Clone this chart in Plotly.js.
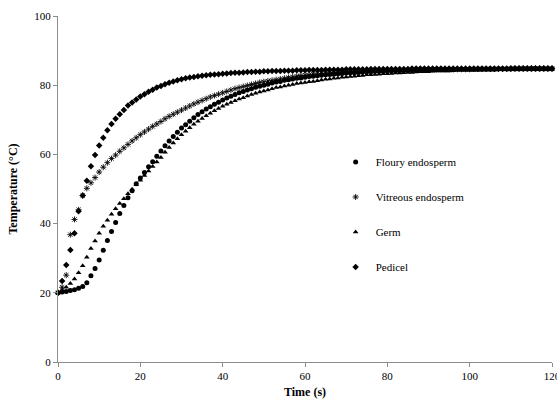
<!DOCTYPE html>
<html><head><meta charset="utf-8">
<script src="https://cdn.plot.ly/plotly-3.0.1.min.js"></script>
<style>html,body{margin:0;padding:0;background:#fff}#chart{width:557px;height:400px}</style>
</head><body><div id="chart"></div>
<script>
const time = [0,1,2,3,4,5,6,7,8,9,10,11,12,13,14,15,16,17,18,19,20,21,22,23,24,25,26,27,28,29,
30,31,32,33,34,35,36,37,38,39,40,41,42,43,44,45,46,47,48,49,50,51,52,53,54,55,56,57,58,59,
60,61,62,63,64,65,66,67,68,69,70,71,72,73,74,75,76,77,78,79,80,81,82,83,84,85,86,87,88,89,
90,91,92,93,94,95,96,97,98,99,100,101,102,103,104,105,106,107,108,109,110,111,112,113,114,115,116,117,118,119,120];

const flouryEndosperm = [20.0,20.2,20.4,20.7,20.9,21.3,21.8,22.9,24.9,27.0,
29.5,32.3,35.1,37.7,40.3,42.9,45.2,47.5,49.5,51.5,
53.2,54.8,56.4,57.9,59.5,61.0,62.5,63.9,65.2,66.4,
67.6,68.6,69.6,70.6,71.5,72.3,73.1,73.8,74.5,75.1,
75.7,76.3,76.8,77.3,77.8,78.2,78.6,79.0,79.4,79.7,
80.0,80.3,80.6,80.9,81.1,81.4,81.6,81.8,82.0,82.1,
82.3,82.5,82.6,82.7,82.9,83.0,83.1,83.2,83.3,83.4,
83.5,83.6,83.6,83.7,83.8,83.9,83.9,84.0,84.0,84.1,
84.1,84.2,84.2,84.2,84.3,84.3,84.3,84.4,84.4,84.4,
84.4,84.5,84.5,84.5,84.5,84.5,84.5,84.6,84.6,84.6,
84.6,84.6,84.6,84.6,84.6,84.6,84.6,84.7,84.7,84.7,
84.7,84.7,84.7,84.7,84.7,84.7,84.7,84.7,84.7,84.7,
84.7];

const vitreousEndosperm = [20.0,21.6,25.1,36.8,41.2,44.0,48.1,50.2,51.8,53.3,
54.9,56.3,57.6,58.8,59.8,60.9,61.9,62.9,63.9,64.8,
65.7,66.5,67.3,68.1,68.8,69.5,70.3,71.0,71.6,72.2,
72.8,73.4,74.0,74.6,75.1,75.6,76.1,76.6,77.0,77.4,
77.8,78.2,78.6,79.0,79.3,79.6,79.9,80.2,80.5,80.8,
81.0,81.2,81.4,81.6,81.8,82.0,82.2,82.4,82.6,82.8,
82.9,83.0,83.2,83.3,83.4,83.5,83.6,83.7,83.8,83.9,
83.9,84.0,84.0,84.1,84.1,84.2,84.2,84.3,84.3,84.3,
84.4,84.4,84.4,84.4,84.4,84.4,84.5,84.5,84.5,84.5,
84.5,84.6,84.6,84.6,84.6,84.6,84.6,84.6,84.6,84.6,
84.6,84.7,84.7,84.7,84.7,84.7,84.7,84.7,84.7,84.7,
84.7,84.8,84.8,84.8,84.8,84.8,84.8,84.8,84.8,84.8,
84.8];

const germ = [20.0,20.8,21.6,22.7,24.0,25.8,27.8,30.3,32.8,35.0,
37.2,39.2,41.0,42.7,44.3,45.8,47.2,48.6,49.9,51.2,
52.5,53.9,55.2,56.5,57.8,59.1,60.6,62.0,63.3,64.5,
65.7,66.7,67.7,68.7,69.6,70.4,71.2,71.9,72.6,73.3,
73.9,74.5,75.0,75.5,76.0,76.4,76.9,77.3,77.7,78.0,
78.3,78.6,79.0,79.3,79.5,79.8,80.0,80.2,80.5,80.6,
80.8,81.0,81.1,81.3,81.5,81.7,81.8,82.0,82.1,82.3,
82.4,82.5,82.6,82.7,82.8,83.0,83.0,83.1,83.2,83.3,
83.3,83.4,83.5,83.5,83.6,83.7,83.7,83.8,83.9,83.9,
83.9,84.0,84.1,84.1,84.1,84.1,84.2,84.3,84.3,84.3,
84.3,84.3,84.3,84.4,84.4,84.4,84.4,84.5,84.5,84.5,
84.5,84.6,84.6,84.6,84.6,84.6,84.6,84.6,84.6,84.6,
84.6];

const pedicel = [20.0,23.4,28.0,32.4,37.2,43.6,48.1,52.4,56.6,59.8,
62.6,64.8,67.0,68.8,70.3,71.6,72.8,74.1,75.0,75.9,
76.7,77.4,78.1,78.7,79.3,79.8,80.3,80.7,81.1,81.4,
81.7,82.0,82.2,82.4,82.6,82.7,82.9,83.0,83.1,83.2,
83.3,83.4,83.5,83.6,83.6,83.7,83.8,83.8,83.9,83.9,
84.0,84.0,84.1,84.1,84.1,84.2,84.2,84.2,84.3,84.3,
84.3,84.4,84.4,84.4,84.4,84.5,84.5,84.5,84.5,84.5,
84.6,84.6,84.6,84.6,84.6,84.6,84.7,84.7,84.7,84.7,
84.7,84.7,84.7,84.7,84.7,84.7,84.8,84.8,84.8,84.8,
84.8,84.8,84.8,84.8,84.8,84.8,84.8,84.8,84.8,84.8,
84.8,84.8,84.8,84.8,84.8,84.8,84.8,84.8,84.8,84.8,
84.9,84.9,84.9,84.9,84.9,84.9,84.9,84.9,84.9,84.9,
84.9];

const seriesNames = ["Floury endosperm", "Vitreous endosperm", "Germ", "Pedicel"];

const font = "Liberation Serif";
function tr(name, y, symbol, size, lg) {
  const open = symbol.indexOf("open") >= 0;
  return {
    x: time, y: y, name: name, type: "scatter", mode: "markers",
    legendgroup: lg, cliponaxis: false,
    marker: {symbol: symbol, size: size, color: "#000",
             line: {color: open ? "#222" : "#000", width: open ? 0.9 : 0}}
  };
}
const data = [
  tr(seriesNames[0], flouryEndosperm, "circle", 5, "a"),
  tr(seriesNames[1], vitreousEndosperm, "asterisk-open", 5, "b"),
  tr(seriesNames[2], germ, "triangle-up", 5, "c"),
  tr(seriesNames[3], pedicel, "diamond", 5, "d")
];
const axisCommon = {
  showgrid: false, zeroline: false, showline: true, linecolor: "#8c8c8c", linewidth: 1,
  ticks: "outside", ticklen: 4, tickcolor: "#8c8c8c", ticklabeloverflow: "allow",
  tickfont: {family: font, size: 11, color: "#000"}
};
const layout = {
  width: 557, height: 400,
  margin: {l: 58, r: 5, t: 16, b: 38},
  paper_bgcolor: "#fff", plot_bgcolor: "#fff",
  showlegend: true,
  font: {family: font, color: "#000"},
  legend: {x: 0.562, y: 0.62, xanchor: "left", yanchor: "top",
           font: {family: font, size: 11, color: "#000"},
           traceorder: "grouped", tracegroupgap: 16, bgcolor: "rgba(0,0,0,0)"},
  xaxis: Object.assign({}, axisCommon, {range: [0, 120], dtick: 20,
    title: {text: "<b>Time (s)</b>", font: {family: font, size: 12, color: "#000"}, standoff: 6}}),
  yaxis: Object.assign({}, axisCommon, {range: [0, 100], dtick: 20,
    title: {text: "<b>Temperature (°C)</b>", font: {family: font, size: 12, color: "#000"}, standoff: 14}})
};
Plotly.newPlot("chart", data, layout, {displayModeBar: false, staticPlot: true});
</script></body></html>
